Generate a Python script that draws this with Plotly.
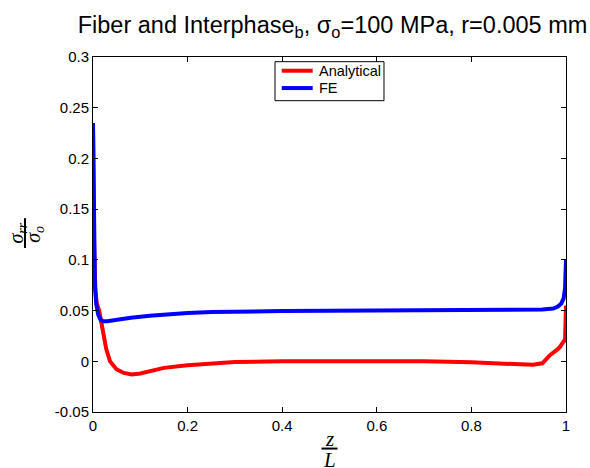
import plotly.graph_objects as go

# Normalised position along the fibre, z/L
z_analytical = [0, 0.002, 0.005, 0.008, 0.013, 0.02, 0.028, 0.036, 0.05, 0.065,
                0.082, 0.1, 0.12, 0.15, 0.2, 0.25, 0.3, 0.4, 0.5, 0.6, 0.7,
                0.8, 0.85, 0.9, 0.93, 0.95, 0.966, 0.98, 0.987, 0.994, 0.998, 1.0]
sigma_analytical = [0.235, 0.12, 0.07, 0.057, 0.05, 0.03, 0.012, 0.0, -0.008, -0.0115,
                    -0.013, -0.012, -0.0095, -0.0065, -0.004, -0.002, -0.0008, 0.0, 0.0, 0.0, 0.0,
                    -0.001, -0.002, -0.003, -0.0035, -0.002, 0.006, 0.011, 0.014, 0.019, 0.021, 0.055]

z_fe = [0, 0.002, 0.004, 0.007, 0.011, 0.016, 0.022, 0.03, 0.05, 0.08, 0.12,
        0.16, 0.2, 0.25, 0.3, 0.4, 0.5, 0.6, 0.7, 0.8, 0.9, 0.95, 0.973,
        0.983, 0.99, 0.995, 0.998, 1.0]
sigma_fe = [0.235, 0.15, 0.075, 0.056, 0.046, 0.041, 0.0395, 0.0395, 0.041, 0.043, 0.045,
            0.0465, 0.0475, 0.0485, 0.049, 0.0495, 0.0498, 0.05, 0.05, 0.05, 0.0505, 0.051, 0.052,
            0.054, 0.057, 0.062, 0.072, 0.1]

series_names = ["Analytical", "FE"]
series_colors = ["#ff0000", "#0000ff"]

x_ticks = [0, 0.2, 0.4, 0.6, 0.8, 1]
x_tick_text = ["0", "0.2", "0.4", "0.6", "0.8", "1"]
y_ticks = [-0.05, 0, 0.05, 0.1, 0.15, 0.2, 0.25, 0.3]
y_tick_text = ["-0.05", "0", "0.05", "0.1", "0.15", "0.2", "0.25", "0.3"]

FONT = "Liberation Sans, Arial, sans-serif"
SERIF = "Liberation Serif, DejaVu Serif, serif"

fig = go.Figure()
for xs, ys, name, color in zip([z_analytical, z_fe], [sigma_analytical, sigma_fe],
                               series_names, series_colors):
    fig.add_trace(go.Scatter(x=xs, y=ys, mode="lines", name=name,
                             line=dict(color=color, width=4), showlegend=False))

axis_common = dict(showgrid=False, zeroline=False, showline=True, linecolor="black",
                   linewidth=1, mirror="ticks", ticks="inside", ticklen=5,
                   tickcolor="black", tickfont=dict(family=FONT, size=15, color="black"))

fig.update_layout(
    width=590, height=468,
    margin=dict(l=93, r=24, t=57, b=56),
    paper_bgcolor="white", plot_bgcolor="white",
    title=dict(text="Fiber and Interphase<sub>b</sub>, \u03c3<sub>o</sub>=100 MPa, r=0.005 mm",
               x=0.5636, xanchor="center", y=0.9466, yanchor="middle",
               font=dict(family=FONT, size=23.5, color="black")),
    xaxis=dict(range=[0, 1], tickvals=x_ticks, ticktext=x_tick_text, **axis_common),
    yaxis=dict(range=[-0.05, 0.3], tickvals=y_ticks, ticktext=y_tick_text, **axis_common),
)

# Legend box drawn in paper coordinates (compact, boxed, top centre)
fig.add_shape(type="rect", xref="paper", yref="paper", x0=0.3848, x1=0.6152,
              y0=0.8769, y1=0.9868, line=dict(color="black", width=1),
              fillcolor="white", layer="above")
legend_rows = [0.9614, 0.9125]
for name, color, row in zip(series_names, series_colors, legend_rows):
    fig.add_shape(type="line", xref="paper", yref="paper", x0=0.399, x1=0.4645,
                  y0=row, y1=row, line=dict(color=color, width=4), layer="above")
    fig.add_annotation(text=name, xref="paper", yref="paper", x=0.473, y=row,
                       xanchor="left", yanchor="middle", showarrow=False,
                       font=dict(family=FONT, size=14.5, color="black"))

# x-axis label: z over L
fig.add_annotation(text="<i>z</i>", xref="paper", yref="paper", x=0.5, y=-0.076,
                   showarrow=False, yanchor="middle",
                   font=dict(family=SERIF, size=21, color="black"))
fig.add_shape(type="line", xref="paper", yref="paper", x0=0.483, x1=0.517,
              y0=-0.103, y1=-0.103, line=dict(color="black", width=2))
fig.add_annotation(text="<i>L</i>", xref="paper", yref="paper", x=0.5, y=-0.134,
                   showarrow=False, yanchor="middle",
                   font=dict(family=SERIF, size=21, color="black"))

# y-axis label: sigma_rr over sigma_o, rotated
fig.add_annotation(text="<i>\u03c3<sub>rr</sub></i>", xref="paper", yref="paper",
                   x=-0.159, y=0.505, showarrow=False, textangle=-90,
                   xanchor="center", yanchor="middle",
                   font=dict(family=SERIF, size=20, color="black"))
fig.add_shape(type="line", xref="paper", yref="paper", x0=-0.1438, x1=-0.1438,
              y0=0.462, y1=0.546, line=dict(color="black", width=2))
fig.add_annotation(text="<i>\u03c3<sub>o</sub></i>", xref="paper", yref="paper",
                   x=-0.124, y=0.5, showarrow=False, textangle=-90,
                   xanchor="center", yanchor="middle",
                   font=dict(family=SERIF, size=20, color="black"))

fig.write_html("out.html")
